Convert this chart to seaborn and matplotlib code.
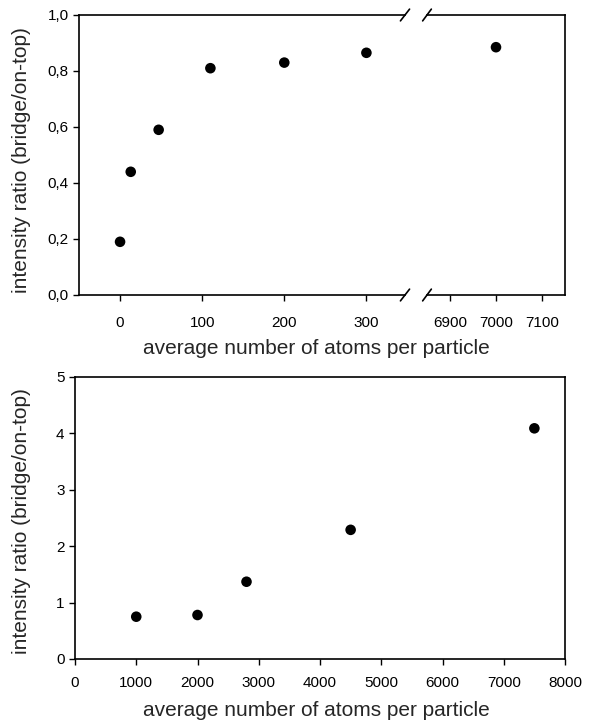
''' intensity ratio vs particle size, two panels, top one with broken x axis '''
import seaborn as sns
import matplotlib.pyplot as plt
from matplotlib.ticker import FuncFormatter
import pandas as pd

# top panel data (small particles + one big particle)
atoms_small = [0, 13, 47, 110, 200, 300]
ratio_small = [0.19, 0.44, 0.59, 0.81, 0.83, 0.865]
atoms_big = [7000]
ratio_big = [0.885]

# bottom panel data
atoms_bottom = [1000, 2000, 2800, 4500, 7500]
ratio_bottom = [0.75, 0.78, 1.37, 2.29, 4.09]

xlabel = "average number of atoms per particle"
ylabel = "intensity ratio (bridge/on-top)"

sns.set_style("ticks")
plt.rcParams['font.family'] = ['Liberation Sans', 'DejaVu Sans']

fig = plt.figure(figsize=(5.93, 7.22), dpi=100)
W, H = 593, 722


def box(x0, x1, y0, y1):
    # pixel box -> figure fraction rect
    return [x0 / W, 1 - y1 / H, (x1 - x0) / W, (y1 - y0) / H]


ax1 = fig.add_axes(box(79, 405, 15, 295))
ax2 = fig.add_axes(box(427, 565, 15, 295))
ax3 = fig.add_axes(box(75, 565, 377, 659))

df_small = pd.DataFrame({"x": atoms_small, "y": ratio_small})
df_big = pd.DataFrame({"x": atoms_big, "y": ratio_big})
df_bottom = pd.DataFrame({"x": atoms_bottom, "y": ratio_bottom})

dot = dict(color="black", s=58, edgecolor="none", legend=False, zorder=3)
sns.scatterplot(data=df_small, x="x", y="y", ax=ax1, **dot)
sns.scatterplot(data=df_big, x="x", y="y", ax=ax2, **dot)
sns.scatterplot(data=df_bottom, x="x", y="y", ax=ax3, **dot)

comma = FuncFormatter(lambda v, _: f"{v:.1f}".replace(".", ","))

# top left
ax1.set_xlim(-50, 347)
ax1.set_ylim(0, 1.0)
ax1.set_xticks([0, 100, 200, 300])
ax1.set_yticks([0, 0.2, 0.4, 0.6, 0.8, 1.0])
ax1.yaxis.set_major_formatter(comma)
ax1.spines["right"].set_visible(False)

# top right
ax2.set_xlim(6850, 7150)
ax2.set_ylim(0, 1.0)
ax2.set_xticks([6900, 7000, 7100])
ax2.set_yticks([])
ax2.spines["left"].set_visible(False)

# bottom
ax3.set_xlim(0, 8000)
ax3.set_ylim(0, 5)
ax3.set_xticks(range(0, 8001, 1000))
ax3.set_yticks(range(0, 6))

for ax in (ax1, ax2, ax3):
    ax.set_xlabel("")
    ax.set_ylabel("")
    ax.tick_params(direction="out", length=4, width=1, labelsize=11, colors="black")
    for sp in ax.spines.values():
        sp.set_linewidth(1.2)
        sp.set_color("black")

ax1.tick_params(axis="x", pad=11)
ax2.tick_params(axis="x", pad=11)
ax3.tick_params(axis="x", pad=8)

# axis titles placed where the reference has them
fig.text(316 / W, 1 - 348 / H, xlabel, fontsize=15, ha="center", va="center")
fig.text(316 / W, 1 - 710 / H, xlabel, fontsize=15, ha="center", va="center")
fig.text(22 / W, 1 - 160 / H, ylabel, fontsize=15, rotation=90, ha="center", va="center")
fig.text(22 / W, 1 - 521 / H, ylabel, fontsize=15, rotation=90, ha="center", va="center")

# break marks (small slashes)
d = 0.035
kw = dict(color="black", clip_on=False, lw=1.2)
for y in (0, 1):
    ax1.plot((1 - d * 0.4, 1 + d * 0.4), (y - d * 0.6, y + d * 0.6), transform=ax1.transAxes, **kw)
    ax2.plot((-d * 0.9, d * 0.9), (y - d * 0.6, y + d * 0.6), transform=ax2.transAxes, **kw)

fig.savefig("out.png", dpi=100)
